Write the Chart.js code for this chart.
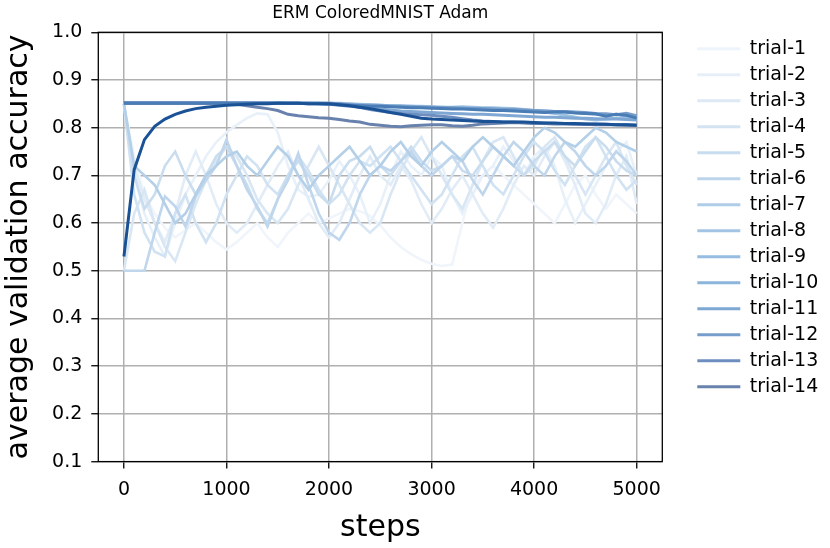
<!DOCTYPE html>
<html>
<head>
<meta charset="utf-8">
<script src="https://cdn.jsdelivr.net/npm/chart.js@4.4.1/dist/chart.umd.min.js"></script>
<style>
  html, body { margin: 0; padding: 0; background: #fff; }
</style>
</head>
<body>
<canvas id="chart" width="830" height="548"></canvas>
<script>
// steps on the x axis
const steps = [0, 100, 200, 300, 400, 500, 600, 700, 800, 900,
  1000, 1100, 1200, 1300, 1400, 1500, 1600, 1700, 1800, 1900,
  2000, 2100, 2200, 2300, 2400, 2500, 2600, 2700, 2800, 2900,
  3000, 3100, 3200, 3300, 3400, 3500, 3600, 3700, 3800, 3900,
  4000, 4100, 4200, 4300, 4400, 4500, 4600, 4700, 4800, 4900,
  5000];

const xTicks = [0, 1000, 2000, 3000, 4000, 5000];
const yTicks = [0.1, 0.2, 0.3, 0.4, 0.5, 0.6, 0.7, 0.8, 0.9, 1.0];

// average validation accuracy per trial
const trial1 = [0.85, 0.74, 0.66, 0.62, 0.59, 0.57, 0.585, 0.6, 0.58, 0.56,
  0.545, 0.56, 0.58, 0.6, 0.57, 0.55, 0.58, 0.6, 0.62, 0.6,
  0.61, 0.62, 0.63, 0.625, 0.615, 0.595, 0.57, 0.55, 0.535, 0.523,
  0.515, 0.51, 0.513, 0.6, 0.68, 0.7, 0.72, 0.7, 0.68, 0.66,
  0.64, 0.62, 0.6, 0.64, 0.68, 0.7, 0.66, 0.63, 0.66, 0.64,
  0.62];
const trial2 = [0.85, 0.7, 0.62, 0.57, 0.53, 0.6, 0.66, 0.7, 0.74, 0.77,
  0.79, 0.806, 0.82, 0.83, 0.828, 0.79, 0.72, 0.67, 0.655, 0.66,
  0.69, 0.73, 0.7, 0.66, 0.6, 0.64, 0.7, 0.75, 0.72, 0.7,
  0.74, 0.72, 0.66, 0.62, 0.66, 0.7, 0.72, 0.76, 0.73, 0.7,
  0.74, 0.76, 0.72, 0.65, 0.6, 0.64, 0.68, 0.72, 0.75, 0.77,
  0.7];
const trial3 = [0.85, 0.72, 0.65, 0.6, 0.56, 0.62, 0.7, 0.75, 0.7, 0.64,
  0.6, 0.58, 0.6, 0.64, 0.68, 0.72, 0.75, 0.7, 0.65, 0.6,
  0.57, 0.6, 0.65, 0.7, 0.74, 0.7, 0.68, 0.72, 0.69, 0.64,
  0.6, 0.63, 0.67, 0.7, 0.66, 0.62, 0.59, 0.63, 0.68, 0.72,
  0.7, 0.74, 0.77, 0.73, 0.68, 0.62, 0.6, 0.64, 0.7, 0.74,
  0.64];
const trial4 = [0.5, 0.62, 0.67, 0.6, 0.55, 0.52, 0.58, 0.64, 0.69, 0.73,
  0.76, 0.74, 0.7, 0.65, 0.62, 0.6, 0.63, 0.68, 0.72, 0.76,
  0.72, 0.68, 0.64, 0.6, 0.58, 0.6, 0.66, 0.71, 0.75, 0.78,
  0.74, 0.7, 0.66, 0.63, 0.68, 0.73, 0.77, 0.78, 0.74, 0.7,
  0.72, 0.76, 0.78, 0.74, 0.7, 0.66, 0.7, 0.74, 0.77, 0.72,
  0.68];
const trial5 = [0.85, 0.66, 0.58, 0.54, 0.53, 0.62, 0.66, 0.6, 0.56, 0.6,
  0.66, 0.7, 0.74, 0.72, 0.68, 0.66, 0.7, 0.74, 0.71, 0.67,
  0.64, 0.66, 0.7, 0.73, 0.72, 0.74, 0.76, 0.73, 0.7, 0.67,
  0.64, 0.66, 0.7, 0.74, 0.76, 0.72, 0.68, 0.66, 0.7, 0.74,
  0.77, 0.75, 0.71, 0.68, 0.72, 0.76, 0.78, 0.74, 0.7, 0.67,
  0.69];
const trial6 = [0.85, 0.7, 0.63, 0.66, 0.72, 0.75, 0.7, 0.66, 0.7, 0.74,
  0.76, 0.72, 0.68, 0.63, 0.6, 0.65, 0.7, 0.73, 0.7, 0.66,
  0.64, 0.7, 0.73, 0.74, 0.76, 0.72, 0.7, 0.73, 0.76, 0.73,
  0.71, 0.72, 0.74, 0.71, 0.7, 0.73, 0.76, 0.74, 0.72, 0.7,
  0.73, 0.75, 0.77, 0.74, 0.72, 0.75, 0.78, 0.76, 0.73, 0.71,
  0.7];
const trial7 = [0.5, 0.5, 0.5, 0.58, 0.656, 0.635, 0.593, 0.656, 0.69, 0.72,
  0.775, 0.72, 0.67, 0.635, 0.593, 0.65, 0.69, 0.746, 0.68, 0.62,
  0.58, 0.565, 0.6, 0.66, 0.7, 0.72, 0.71, 0.73, 0.75, 0.72,
  0.7, 0.72, 0.74, 0.73, 0.69, 0.66, 0.7, 0.74, 0.77, 0.75,
  0.72, 0.7, 0.74, 0.77, 0.75, 0.72, 0.7, 0.72, 0.75, 0.73,
  0.7];
const trial8 = [0.85, 0.72, 0.7, 0.68, 0.64, 0.6, 0.62, 0.66, 0.7, 0.72,
  0.74, 0.75, 0.72, 0.7, 0.73, 0.76, 0.74, 0.7, 0.67, 0.7,
  0.72, 0.74, 0.76, 0.73, 0.7, 0.72, 0.75, 0.77, 0.74, 0.72,
  0.75, 0.77, 0.75, 0.73, 0.76, 0.78, 0.76, 0.74, 0.72, 0.75,
  0.78, 0.8, 0.79, 0.77, 0.76, 0.78, 0.8, 0.79, 0.77, 0.76,
  0.75];
const trial9 = [0.851, 0.851, 0.851, 0.851, 0.851, 0.851, 0.851, 0.851, 0.851, 0.851,
  0.851, 0.851, 0.851, 0.851, 0.851, 0.851, 0.851, 0.851, 0.851, 0.851,
  0.851, 0.851, 0.85, 0.849, 0.848, 0.847, 0.846, 0.846, 0.845, 0.845,
  0.844, 0.843, 0.843, 0.844, 0.843, 0.842, 0.842, 0.841, 0.84, 0.838,
  0.836, 0.833, 0.83, 0.826, 0.822, 0.818, 0.816, 0.818, 0.82, 0.822,
  0.818];
const trial10 = [0.851, 0.851, 0.851, 0.851, 0.851, 0.851, 0.851, 0.851, 0.851, 0.851,
  0.851, 0.851, 0.851, 0.851, 0.851, 0.851, 0.851, 0.851, 0.851, 0.851,
  0.851, 0.85, 0.849, 0.848, 0.848, 0.847, 0.846, 0.845, 0.845, 0.844,
  0.843, 0.843, 0.842, 0.841, 0.841, 0.84, 0.839, 0.839, 0.838, 0.837,
  0.836, 0.835, 0.834, 0.833, 0.832, 0.83, 0.828, 0.826, 0.828, 0.826,
  0.823];
const trial11 = [0.851, 0.851, 0.851, 0.851, 0.851, 0.851, 0.851, 0.851, 0.851, 0.851,
  0.851, 0.851, 0.851, 0.851, 0.851, 0.851, 0.851, 0.851, 0.851, 0.85,
  0.849, 0.847, 0.845, 0.843, 0.841, 0.839, 0.837, 0.835, 0.834, 0.833,
  0.832, 0.831, 0.83, 0.829, 0.828, 0.828, 0.827, 0.826, 0.825, 0.824,
  0.823, 0.822, 0.822, 0.821, 0.82, 0.82, 0.819, 0.818, 0.818, 0.817,
  0.816];
const trial12 = [0.851, 0.851, 0.851, 0.851, 0.851, 0.851, 0.851, 0.851, 0.851, 0.851,
  0.851, 0.851, 0.851, 0.851, 0.851, 0.851, 0.851, 0.851, 0.851, 0.851,
  0.85, 0.849, 0.848, 0.847, 0.846, 0.846, 0.845, 0.845, 0.844, 0.843,
  0.843, 0.842, 0.842, 0.841, 0.84, 0.84, 0.839, 0.838, 0.838, 0.837,
  0.836, 0.835, 0.834, 0.834, 0.833, 0.832, 0.83, 0.829, 0.827, 0.83,
  0.825];
const trial13 = [0.851, 0.851, 0.851, 0.851, 0.851, 0.851, 0.851, 0.851, 0.851, 0.851,
  0.851, 0.851, 0.851, 0.851, 0.851, 0.851, 0.851, 0.851, 0.851, 0.851,
  0.851, 0.85, 0.847, 0.843, 0.838, 0.835, 0.832, 0.83, 0.828, 0.827,
  0.826, 0.824, 0.822, 0.819, 0.816, 0.814, 0.813, 0.812, 0.812, 0.811,
  0.81, 0.81, 0.809, 0.809, 0.808, 0.808, 0.807, 0.807, 0.806, 0.806,
  0.805];
const trial14 = [0.851, 0.851, 0.851, 0.851, 0.851, 0.851, 0.851, 0.851, 0.851, 0.851,
  0.851, 0.849, 0.846, 0.843, 0.84, 0.836, 0.828, 0.825, 0.823, 0.821,
  0.82, 0.817, 0.814, 0.812, 0.807, 0.805, 0.803, 0.802, 0.804, 0.805,
  0.806, 0.806, 0.804, 0.803, 0.805, 0.808, 0.809, 0.81, 0.811, 0.81,
  0.809, 0.809, 0.808, 0.808, 0.807, 0.807, 0.806, 0.806, 0.806, 0.805,
  0.805];
const trial15 = [0.852, 0.852, 0.852, 0.852, 0.852, 0.852, 0.852, 0.852, 0.852, 0.852,
  0.852, 0.852, 0.852, 0.852, 0.852, 0.852, 0.851, 0.851, 0.85, 0.85,
  0.849, 0.848, 0.847, 0.846, 0.845, 0.845, 0.844, 0.843, 0.842, 0.842,
  0.841, 0.84, 0.839, 0.839, 0.838, 0.837, 0.836, 0.836, 0.835, 0.834,
  0.833, 0.832, 0.833, 0.833, 0.831, 0.83, 0.829, 0.824, 0.828, 0.826,
  0.82];
const trial16 = [0.53, 0.712, 0.775, 0.803, 0.818, 0.828, 0.835, 0.84, 0.843, 0.845,
  0.847, 0.848, 0.849, 0.85, 0.85, 0.851, 0.851, 0.851, 0.85, 0.85,
  0.85, 0.848, 0.846, 0.843, 0.84, 0.836, 0.832, 0.828, 0.824, 0.82,
  0.818, 0.817, 0.816, 0.815, 0.814, 0.813, 0.813, 0.812, 0.812, 0.812,
  0.811, 0.81, 0.81, 0.809, 0.809, 0.808, 0.808, 0.807, 0.806, 0.806,
  0.805];

const trials = [trial1, trial2, trial3, trial4, trial5, trial6, trial7, trial8,
  trial9, trial10, trial11, trial12, trial13, trial14, trial15, trial16];

const trialColors = ['#f0f5fb', '#e8f1f9', '#e1ecf7', '#d9e7f4', '#d1e2f2', '#c9ddef',
  '#bfd6ec', '#b4cfe8', '#9cc2e2', '#8cb5db', '#7fa7d3', '#779dcb', '#6e8ebf',
  '#6882ad', '#4a7db5', '#1b5296'];

const legendColors = ['#eef4fb', '#e6eff8', '#dde9f5', '#d3e3f2', '#c8dcef', '#bcd5eb',
  '#b0cde7', '#a3c5e3', '#96bddf', '#8cb5db', '#7fa7d3', '#779dcb', '#6e8ebf',
  '#6882ad'];

const legendCount = 14;
const font = 'DejaVu Sans';

const datasets = trials.map((vals, i) => ({
  label: 'trial-' + (i + 1),
  data: steps.map((s, j) => ({ x: s, y: vals[j] })),
  borderColor: trialColors[i],
  backgroundColor: trialColors[i],
  borderWidth: i < 8 ? 2.6 : 3,
  pointRadius: 0,
  tension: 0,
  order: trials.length - i   // later trials drawn on top
}));

// plot frame + legend placement
const framePlugin = {
  id: 'frame',
  beforeUpdate(chart) {
    const lg = chart.legend;
    if (lg && !lg._fixed) {
      const fit = lg.fit;
      lg.fit = function () { fit.call(this); this.width = 167.7; };
      lg._fixed = true;
    }
  },
  afterLayout(chart) {
    chart.legend.left += 28;
    chart.legend.right += 28;
  },
  afterDatasetsDraw(chart) {
    const { ctx, chartArea: a } = chart;
    ctx.save();
    ctx.strokeStyle = '#000';
    ctx.lineWidth = 1.3;
    ctx.strokeRect(a.left, a.top, a.right - a.left, a.bottom - a.top);
    ctx.restore();
  }
};

new Chart(document.getElementById('chart'), {
  type: 'line',
  data: { datasets },
  options: {
    responsive: false,
    animation: false,
    devicePixelRatio: 1,
    layout: { padding: 0 },
    plugins: {
      title: {
        display: true,
        text: 'ERM ColoredMNIST Adam',
        fullSize: false,
        color: '#000',
        font: { family: font, size: 17, weight: 'normal', lineHeight: 1.2 },
        padding: { top: 3, bottom: 8.9 }
      },
      legend: {
        position: 'right',
        align: 'start',
        fullSize: false,
        labels: {
          usePointStyle: true,
          pointStyle: 'line',
          pointStyleWidth: 43,
          padding: 7,
          color: '#000',
          font: { family: font, size: 19 },
          filter: item => item.datasetIndex < legendCount,
          sort: (a, b) => a.datasetIndex - b.datasetIndex,
          generateLabels: chart => chart.data.datasets.map((ds, i) => ({
            text: ds.label,
            datasetIndex: i,
            strokeStyle: legendColors[i] || ds.borderColor,
            fillStyle: legendColors[i] || ds.borderColor,
            lineWidth: 3,
            pointStyle: 'line',
            hidden: false
          }))
        }
      },
      tooltip: { enabled: false }
    },
    scales: {
      x: {
        type: 'linear',
        min: -250,
        max: 5250,
        afterFit: s => { s.height = 86.4; },
        afterBuildTicks: s => { s.ticks = xTicks.map(v => ({ value: v })); },
        ticks: {
          maxRotation: 0,
          padding: 10,
          color: '#000',
          font: { family: font, size: 19 },
          callback: v => String(v)
        },
        grid: { color: '#b0b0b0', lineWidth: 1.5, tickColor: '#000', tickLength: 7, tickWidth: 1.3 },
        border: { display: false },
        title: {
          display: true,
          text: 'steps',
          color: '#000',
          font: { family: font, size: 30, lineHeight: 1.2 },
          padding: { top: 0, bottom: 2 }
        }
      },
      y: {
        min: yTicks[0],
        max: yTicks[yTicks.length - 1],
        afterFit: s => { s.width = 98.3; },
        afterBuildTicks: s => { s.ticks = yTicks.map(v => ({ value: v })); },
        ticks: {
          padding: 9,
          color: '#000',
          font: { family: font, size: 19 },
          callback: v => v.toFixed(1)
        },
        grid: { color: '#b0b0b0', lineWidth: 1.5, tickColor: '#000', tickLength: 7, tickWidth: 1.3 },
        border: { display: false },
        title: {
          display: true,
          text: 'average validation accuracy',
          color: '#000',
          font: { family: font, size: 30, lineHeight: 1.2 },
          padding: { top: 1, bottom: 0 }
        }
      }
    }
  },
  plugins: [framePlugin]
});
</script>
</body>
</html>
